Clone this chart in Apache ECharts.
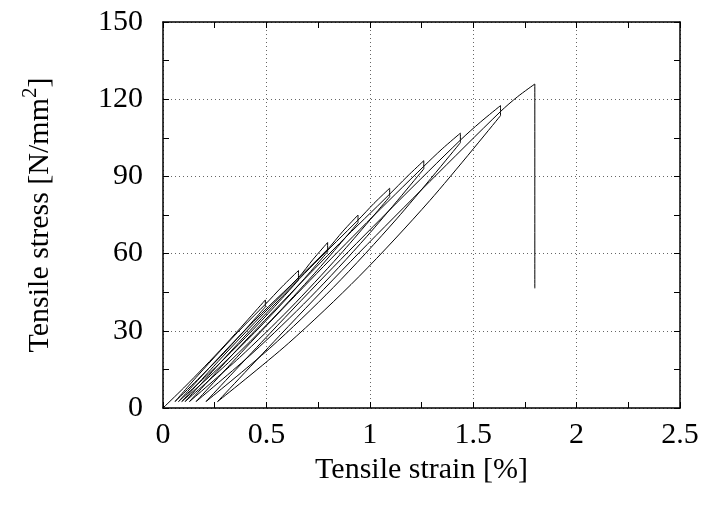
<!DOCTYPE html>
<html>
<head>
<meta charset="utf-8">
<script src="https://cdn.jsdelivr.net/npm/echarts@6/dist/echarts.min.js"></script>
<style>
html, body { margin: 0; padding: 0; background: #fff; }
#chart { width: 704px; height: 506px; }
</style>
</head>
<body>
<div id="chart"></div>
<script>
// axis ranges
var strainMax = 2.5, strainStep = 0.5;
var stressMax = 150, stressStep = 30;

// [strain %, stress N/mm2]
// first loading from the origin, then hold at the first peak
var loading0 = [[0, 0], [0.1, 7.8], [0.2, 16.0], [0.3, 24.5], [0.4, 33.4], [0.495, 42.0], [0.495, 39.3]];
// each cycle: unload to ~2.5, reload to next peak, hold (stress drop)
var cycle1 = [[0.386, 29.4], [0.277, 19.9], [0.167, 11.0], [0.058, 2.5], [0.167, 12.5], [0.277, 22.2], [0.386, 31.5], [0.495, 40.3], [0.575, 47.1], [0.655, 53.4], [0.655, 49.7]];
var cycle2 = [[0.51, 36.8], [0.365, 24.6], [0.22, 13.2], [0.075, 2.5], [0.22, 15.3], [0.365, 27.6], [0.51, 39.4], [0.655, 50.7], [0.726, 57.8], [0.796, 64.3], [0.796, 60.7]];
var cycle3 = [[0.62, 44.5], [0.444, 29.4], [0.267, 15.4], [0.091, 2.5], [0.267, 18.1], [0.444, 33.2], [0.62, 47.7], [0.796, 61.7], [0.87, 68.7], [0.943, 75.0], [0.943, 72.0]];
var cycle4 = [[0.734, 52.4], [0.525, 34.3], [0.316, 17.6], [0.107, 2.5], [0.316, 21.0], [0.525, 39.0], [0.734, 56.3], [0.943, 73.0], [1.02, 79.5], [1.096, 85.4], [1.096, 82.1]];
var cycle5 = [[0.854, 59.4], [0.612, 38.5], [0.37, 19.6], [0.128, 2.5], [0.37, 23.7], [0.612, 44.1], [0.854, 64.0], [1.096, 83.1], [1.18, 89.9], [1.261, 96.1], [1.261, 92.9]];
var cycle6 = [[0.986, 66.7], [0.711, 42.9], [0.435, 21.5], [0.16, 2.5], [0.435, 26.4], [0.711, 49.6], [0.986, 72.1], [1.261, 93.9], [1.35, 100.7], [1.438, 106.8], [1.438, 103.1]];
var cycle7 = [[1.13, 73.5], [0.823, 46.8], [0.516, 23.2], [0.208, 2.5], [0.516, 28.9], [0.823, 54.7], [1.13, 79.7], [1.438, 104.1], [1.535, 111.1], [1.632, 117.5], [1.632, 113.6]];
// last unload, reload up to failure, then the drop
var cycle8 = [[1.29, 80.6], [0.948, 51.1], [0.606, 25.1], [0.264, 2.5], [0.606, 31.7], [0.948, 60.3], [1.29, 88.0], [1.632, 115.2], [1.715, 121.0], [1.798, 125.9], [1.798, 46.5]];

var curve = [].concat(loading0, cycle1, cycle2, cycle3, cycle4, cycle5, cycle6, cycle7, cycle8);

// cut the path where it turns back (peak hold / bottom), so each branch can be smoothed alone
function branches(pts) {
  var out = [], cur = [pts[0]], dir = 0;
  for (var i = 1; i < pts.length; i++) {
    var dx = pts[i][0] - pts[i - 1][0];
    var d = dx > 0 ? 1 : (dx < 0 ? -1 : 0);
    if (cur.length > 1 && d !== dir) {
      out.push(cur);
      cur = [pts[i - 1]];
    }
    dir = d;
    cur.push(pts[i]);
  }
  out.push(cur);
  return out;
}

var font = '"Liberation Serif", "Times New Roman", serif';
var black = '#000';

var chart = echarts.init(document.getElementById('chart'));

// shared axis look (ticks pointing inward, minor ticks between)
function axisBase(extra) {
  var a = {
    type: 'value',
    axisLine: { show: true, onZero: false, lineStyle: { color: black, width: 1.5 } },
    axisTick: { show: true, inside: true, length: 6, lineStyle: { color: black, width: 1 } },
    minorTick: { show: true, splitNumber: 2, length: 6, lineStyle: { color: black, width: 1 } },
    splitLine: { show: false }
  };
  for (var k in extra) a[k] = extra[k];
  return a;
}

var series = branches(curve).map(function (seg) {
  return {
    type: 'line',
    data: seg,
    showSymbol: false,
    symbol: 'none',
    smooth: 0.3,
    lineStyle: { color: black, width: 1 },
    z: 5
  };
});

var option = {
  animation: false,
  backgroundColor: '#fff',
  grid: { left: 163, right: 24, top: 22, bottom: 98, containLabel: false },
  xAxis: [
    axisBase({
      position: 'bottom',
      min: 0, max: strainMax, interval: strainStep,
      name: 'Tensile strain [%]',
      nameLocation: 'middle',
      nameGap: 42,
      nameTextStyle: { fontFamily: font, fontSize: 30, color: black },
      axisLabel: { fontFamily: font, fontSize: 30, color: black, margin: 12 },
      splitLine: { show: true, lineStyle: { color: '#666', type: [1, 3], width: 1 } }
    }),
    axisBase({
      position: 'top',
      min: 0, max: strainMax, interval: strainStep,
      axisLabel: { show: false }
    })
  ],
  yAxis: [
    axisBase({
      position: 'left',
      min: 0, max: stressMax, interval: stressStep,
      name: '{t|Tensile stress [N/mm}{s|2}{t|]}',
      nameLocation: 'middle',
      nameGap: 102,
      nameRotate: 90,
      nameTextStyle: {
        rich: {
          t: { fontFamily: font, fontSize: 30, color: black },
          s: { fontFamily: font, fontSize: 21, color: black, padding: [0, 0, 20, 0] }
        }
      },
      axisLabel: { fontFamily: font, fontSize: 30, color: black, margin: 20 },
      splitLine: { show: true, lineStyle: { color: '#666', type: [1, 3], width: 1 } }
    }),
    axisBase({
      position: 'right',
      min: 0, max: stressMax, interval: stressStep,
      axisLabel: { show: false }
    })
  ],
  series: series
};

chart.setOption(option);
</script>
</body>
</html>
